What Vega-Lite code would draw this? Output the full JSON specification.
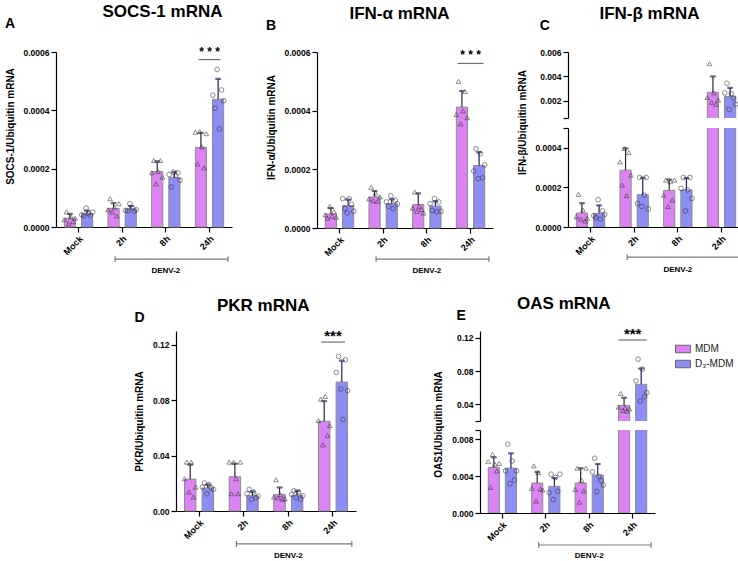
{
  "$schema": "https://vega.github.io/schema/vega-lite/v6.json",
  "padding": {"left": 5, "top": 2, "right": 0, "bottom": 0},
  "datasets": {
    "bars": [
      {"p":"A","t":"Mock","g":"MDM","m":0.00003,"sd":0.000015},
      {"p":"A","t":"Mock","g":"D₃-MDM","m":0.000046,"sd":0.00001},
      {"p":"A","t":"2h","g":"MDM","m":0.000064,"sd":0.000018},
      {"p":"A","t":"2h","g":"D₃-MDM","m":0.000062,"sd":0.00001},
      {"p":"A","t":"8h","g":"MDM","m":0.00019,"sd":0.000035},
      {"p":"A","t":"8h","g":"D₃-MDM","m":0.00017,"sd":0.000018},
      {"p":"A","t":"24h","g":"MDM","m":0.000273,"sd":0.00005},
      {"p":"A","t":"24h","g":"D₃-MDM","m":0.000438,"sd":0.00007},
      {"p":"B","t":"Mock","g":"MDM","m":0.000048,"sd":0.00002},
      {"p":"B","t":"Mock","g":"D₃-MDM","m":0.000077,"sd":0.00002},
      {"p":"B","t":"2h","g":"MDM","m":0.000106,"sd":0.00002},
      {"p":"B","t":"2h","g":"D₃-MDM","m":0.000083,"sd":0.000015},
      {"p":"B","t":"8h","g":"MDM","m":0.00008,"sd":0.000038},
      {"p":"B","t":"8h","g":"D₃-MDM","m":0.000075,"sd":0.000016},
      {"p":"B","t":"24h","g":"MDM","m":0.000412,"sd":0.000055},
      {"p":"B","t":"24h","g":"D₃-MDM","m":0.000213,"sd":0.000045},
      {"p":"C","t":"Mock","g":"MDM","m":0.00007,"sd":0.00005},
      {"p":"C","t":"Mock","g":"D₃-MDM","m":0.000069,"sd":0.00004},
      {"p":"C","t":"2h","g":"MDM","m":0.000287,"sd":0.00011},
      {"p":"C","t":"2h","g":"D₃-MDM","m":0.000163,"sd":0.000086},
      {"p":"C","t":"8h","g":"MDM","m":0.000185,"sd":0.000055},
      {"p":"C","t":"8h","g":"D₃-MDM","m":0.000187,"sd":0.00006},
      {"p":"C","t":"24h","g":"MDM","m":0.0027,"sd":0.0013},
      {"p":"C","t":"24h","g":"D₃-MDM","m":0.00237,"sd":0.0007},
      {"p":"D","t":"Mock","g":"MDM","m":0.023,"sd":0.0105},
      {"p":"D","t":"Mock","g":"D₃-MDM","m":0.0166,"sd":0.0025},
      {"p":"D","t":"2h","g":"MDM","m":0.0247,"sd":0.0095},
      {"p":"D","t":"2h","g":"D₃-MDM","m":0.011,"sd":0.003},
      {"p":"D","t":"8h","g":"MDM","m":0.012,"sd":0.005},
      {"p":"D","t":"8h","g":"D₃-MDM","m":0.0115,"sd":0.003},
      {"p":"D","t":"24h","g":"MDM","m":0.0648,"sd":0.0145},
      {"p":"D","t":"24h","g":"D₃-MDM","m":0.0931,"sd":0.0155},
      {"p":"E","t":"Mock","g":"MDM","m":0.00493,"sd":0.0011},
      {"p":"E","t":"Mock","g":"D₃-MDM","m":0.00486,"sd":0.0016},
      {"p":"E","t":"2h","g":"MDM","m":0.00325,"sd":0.0012},
      {"p":"E","t":"2h","g":"D₃-MDM","m":0.00289,"sd":0.0009},
      {"p":"E","t":"8h","g":"MDM","m":0.00325,"sd":0.0016},
      {"p":"E","t":"8h","g":"D₃-MDM","m":0.00411,"sd":0.0012},
      {"p":"E","t":"24h","g":"MDM","m":0.0388,"sd":0.0093},
      {"p":"E","t":"24h","g":"D₃-MDM","m":0.0642,"sd":0.019}
    ],
    "pts": [
      {"p":"A","t":"Mock","g":"MDM","r":1,"v":0.000025},{"p":"A","t":"Mock","g":"MDM","r":2,"v":0.000052},{"p":"A","t":"Mock","g":"MDM","r":3,"v":0.000012},{"p":"A","t":"Mock","g":"MDM","r":4,"v":0.000035},{"p":"A","t":"Mock","g":"MDM","r":5,"v":0.000018},{"p":"A","t":"Mock","g":"MDM","r":6,"v":0.00003},
      {"p":"A","t":"Mock","g":"D₃-MDM","r":1,"v":0.000042},{"p":"A","t":"Mock","g":"D₃-MDM","r":2,"v":0.000038},{"p":"A","t":"Mock","g":"D₃-MDM","r":3,"v":0.000065},{"p":"A","t":"Mock","g":"D₃-MDM","r":4,"v":0.000046},{"p":"A","t":"Mock","g":"D₃-MDM","r":5,"v":0.00004},{"p":"A","t":"Mock","g":"D₃-MDM","r":6,"v":0.000051},
      {"p":"A","t":"2h","g":"MDM","r":1,"v":0.000059},{"p":"A","t":"2h","g":"MDM","r":2,"v":0.000097},{"p":"A","t":"2h","g":"MDM","r":3,"v":0.000051},{"p":"A","t":"2h","g":"MDM","r":4,"v":0.000068},{"p":"A","t":"2h","g":"MDM","r":5,"v":0.000038},{"p":"A","t":"2h","g":"MDM","r":6,"v":0.00008},
      {"p":"A","t":"2h","g":"D₃-MDM","r":1,"v":0.000057},{"p":"A","t":"2h","g":"D₃-MDM","r":2,"v":0.000055},{"p":"A","t":"2h","g":"D₃-MDM","r":3,"v":0.00008},{"p":"A","t":"2h","g":"D₃-MDM","r":4,"v":0.000066},{"p":"A","t":"2h","g":"D₃-MDM","r":5,"v":0.000054},{"p":"A","t":"2h","g":"D₃-MDM","r":6,"v":0.000059},
      {"p":"A","t":"8h","g":"MDM","r":1,"v":0.000186},{"p":"A","t":"8h","g":"MDM","r":2,"v":0.000228},{"p":"A","t":"8h","g":"MDM","r":3,"v":0.000148},{"p":"A","t":"8h","g":"MDM","r":4,"v":0.00019},{"p":"A","t":"8h","g":"MDM","r":5,"v":0.000228},{"p":"A","t":"8h","g":"MDM","r":6,"v":0.000171},
      {"p":"A","t":"8h","g":"D₃-MDM","r":1,"v":0.00018},{"p":"A","t":"8h","g":"D₃-MDM","r":2,"v":0.000137},{"p":"A","t":"8h","g":"D₃-MDM","r":3,"v":0.000188},{"p":"A","t":"8h","g":"D₃-MDM","r":4,"v":0.000176},{"p":"A","t":"8h","g":"D₃-MDM","r":5,"v":0.000186},{"p":"A","t":"8h","g":"D₃-MDM","r":6,"v":0.00016},
      {"p":"A","t":"24h","g":"MDM","r":1,"v":0.000325},{"p":"A","t":"24h","g":"MDM","r":2,"v":0.000216},{"p":"A","t":"24h","g":"MDM","r":3,"v":0.000327},{"p":"A","t":"24h","g":"MDM","r":4,"v":0.000275},{"p":"A","t":"24h","g":"MDM","r":5,"v":0.000203},{"p":"A","t":"24h","g":"MDM","r":6,"v":0.00032},
      {"p":"A","t":"24h","g":"D₃-MDM","r":1,"v":0.000452},{"p":"A","t":"24h","g":"D₃-MDM","r":2,"v":0.000407},{"p":"A","t":"24h","g":"D₃-MDM","r":3,"v":0.00054},{"p":"A","t":"24h","g":"D₃-MDM","r":4,"v":0.000336},{"p":"A","t":"24h","g":"D₃-MDM","r":5,"v":0.00047},{"p":"A","t":"24h","g":"D₃-MDM","r":6,"v":0.000433},
      {"p":"B","t":"Mock","g":"MDM","r":1,"v":0.000045},{"p":"B","t":"Mock","g":"MDM","r":2,"v":0.000033},{"p":"B","t":"Mock","g":"MDM","r":3,"v":0.000074},{"p":"B","t":"Mock","g":"MDM","r":4,"v":0.00004},{"p":"B","t":"Mock","g":"MDM","r":5,"v":0.000055},{"p":"B","t":"Mock","g":"MDM","r":6,"v":0.000037},
      {"p":"B","t":"Mock","g":"D₃-MDM","r":1,"v":0.0001},{"p":"B","t":"Mock","g":"D₃-MDM","r":2,"v":0.000066},{"p":"B","t":"Mock","g":"D₃-MDM","r":3,"v":0.000051},{"p":"B","t":"Mock","g":"D₃-MDM","r":4,"v":0.0001},{"p":"B","t":"Mock","g":"D₃-MDM","r":5,"v":0.00008},{"p":"B","t":"Mock","g":"D₃-MDM","r":6,"v":0.000057},
      {"p":"B","t":"2h","g":"MDM","r":1,"v":0.000099},{"p":"B","t":"2h","g":"MDM","r":2,"v":0.000139},{"p":"B","t":"2h","g":"MDM","r":3,"v":0.000093},{"p":"B","t":"2h","g":"MDM","r":4,"v":0.00012},{"p":"B","t":"2h","g":"MDM","r":5,"v":0.000091},{"p":"B","t":"2h","g":"MDM","r":6,"v":0.000106},
      {"p":"B","t":"2h","g":"D₃-MDM","r":1,"v":0.000089},{"p":"B","t":"2h","g":"D₃-MDM","r":2,"v":0.000074},{"p":"B","t":"2h","g":"D₃-MDM","r":3,"v":0.00011},{"p":"B","t":"2h","g":"D₃-MDM","r":4,"v":0.000066},{"p":"B","t":"2h","g":"D₃-MDM","r":5,"v":0.000095},{"p":"B","t":"2h","g":"D₃-MDM","r":6,"v":0.000082},
      {"p":"B","t":"8h","g":"MDM","r":1,"v":0.000068},{"p":"B","t":"8h","g":"MDM","r":2,"v":0.000123},{"p":"B","t":"8h","g":"MDM","r":3,"v":0.000057},{"p":"B","t":"8h","g":"MDM","r":4,"v":0.000074},{"p":"B","t":"8h","g":"MDM","r":5,"v":0.000063},{"p":"B","t":"8h","g":"MDM","r":6,"v":0.000051},
      {"p":"B","t":"8h","g":"D₃-MDM","r":1,"v":0.000083},{"p":"B","t":"8h","g":"D₃-MDM","r":2,"v":0.00006},{"p":"B","t":"8h","g":"D₃-MDM","r":3,"v":0.0001},{"p":"B","t":"8h","g":"D₃-MDM","r":4,"v":0.000055},{"p":"B","t":"8h","g":"D₃-MDM","r":5,"v":0.000089},{"p":"B","t":"8h","g":"D₃-MDM","r":6,"v":0.000057},
      {"p":"B","t":"24h","g":"MDM","r":1,"v":0.000387},{"p":"B","t":"24h","g":"MDM","r":2,"v":0.0005},{"p":"B","t":"24h","g":"MDM","r":3,"v":0.000355},{"p":"B","t":"24h","g":"MDM","r":4,"v":0.000399},{"p":"B","t":"24h","g":"MDM","r":5,"v":0.000465},{"p":"B","t":"24h","g":"MDM","r":6,"v":0.000376},
      {"p":"B","t":"24h","g":"D₃-MDM","r":1,"v":0.000194},{"p":"B","t":"24h","g":"D₃-MDM","r":2,"v":0.00027},{"p":"B","t":"24h","g":"D₃-MDM","r":3,"v":0.000168},{"p":"B","t":"24h","g":"D₃-MDM","r":4,"v":0.000253},{"p":"B","t":"24h","g":"D₃-MDM","r":5,"v":0.000171},{"p":"B","t":"24h","g":"D₃-MDM","r":6,"v":0.000215},
      {"p":"C","t":"Mock","g":"MDM","r":1,"v":0.000052},{"p":"C","t":"Mock","g":"MDM","r":2,"v":0.000165},{"p":"C","t":"Mock","g":"MDM","r":3,"v":0.00004},{"p":"C","t":"Mock","g":"MDM","r":4,"v":0.000086},{"p":"C","t":"Mock","g":"MDM","r":5,"v":0.00003},{"p":"C","t":"Mock","g":"MDM","r":6,"v":0.000044},
      {"p":"C","t":"Mock","g":"D₃-MDM","r":1,"v":0.000057},{"p":"C","t":"Mock","g":"D₃-MDM","r":2,"v":0.000047},{"p":"C","t":"Mock","g":"D₃-MDM","r":3,"v":0.000138},{"p":"C","t":"Mock","g":"D₃-MDM","r":4,"v":0.00004},{"p":"C","t":"Mock","g":"D₃-MDM","r":5,"v":0.000082},{"p":"C","t":"Mock","g":"D₃-MDM","r":6,"v":0.000064},
      {"p":"C","t":"2h","g":"MDM","r":1,"v":0.000329},{"p":"C","t":"2h","g":"MDM","r":2,"v":0.000212},{"p":"C","t":"2h","g":"MDM","r":3,"v":0.000397},{"p":"C","t":"2h","g":"MDM","r":4,"v":0.000158},{"p":"C","t":"2h","g":"MDM","r":5,"v":0.000376},{"p":"C","t":"2h","g":"MDM","r":6,"v":0.000262},
      {"p":"C","t":"2h","g":"D₃-MDM","r":1,"v":0.000119},{"p":"C","t":"2h","g":"D₃-MDM","r":2,"v":0.00025},{"p":"C","t":"2h","g":"D₃-MDM","r":3,"v":0.000103},{"p":"C","t":"2h","g":"D₃-MDM","r":4,"v":0.000161},{"p":"C","t":"2h","g":"D₃-MDM","r":5,"v":0.00025},{"p":"C","t":"2h","g":"D₃-MDM","r":6,"v":0.000091},
      {"p":"C","t":"8h","g":"MDM","r":1,"v":0.000161},{"p":"C","t":"8h","g":"MDM","r":2,"v":0.000237},{"p":"C","t":"8h","g":"MDM","r":3,"v":0.000103},{"p":"C","t":"8h","g":"MDM","r":4,"v":0.000229},{"p":"C","t":"8h","g":"MDM","r":5,"v":0.000136},{"p":"C","t":"8h","g":"MDM","r":6,"v":0.000237},
      {"p":"C","t":"8h","g":"D₃-MDM","r":1,"v":0.000195},{"p":"C","t":"8h","g":"D₃-MDM","r":2,"v":0.00025},{"p":"C","t":"8h","g":"D₃-MDM","r":3,"v":0.000081},{"p":"C","t":"8h","g":"D₃-MDM","r":4,"v":0.000187},{"p":"C","t":"8h","g":"D₃-MDM","r":5,"v":0.00025},{"p":"C","t":"8h","g":"D₃-MDM","r":6,"v":0.000145},
      {"p":"C","t":"24h","g":"MDM","r":1,"v":0.00228},{"p":"C","t":"24h","g":"MDM","r":2,"v":0.00504},{"p":"C","t":"24h","g":"MDM","r":3,"v":0.00189},{"p":"C","t":"24h","g":"MDM","r":4,"v":0.00265},{"p":"C","t":"24h","g":"MDM","r":5,"v":0.00172},{"p":"C","t":"24h","g":"MDM","r":6,"v":0.00208},
      {"p":"C","t":"24h","g":"D₃-MDM","r":1,"v":0.00265},{"p":"C","t":"24h","g":"D₃-MDM","r":2,"v":0.00344},{"p":"C","t":"24h","g":"D₃-MDM","r":3,"v":0.0013},{"p":"C","t":"24h","g":"D₃-MDM","r":4,"v":0.0026},{"p":"C","t":"24h","g":"D₃-MDM","r":5,"v":0.00223},{"p":"C","t":"24h","g":"D₃-MDM","r":6,"v":0.00172},
      {"p":"D","t":"Mock","g":"MDM","r":1,"v":0.0233},{"p":"D","t":"Mock","g":"MDM","r":2,"v":0.0353},{"p":"D","t":"Mock","g":"MDM","r":3,"v":0.0137},{"p":"D","t":"Mock","g":"MDM","r":4,"v":0.0353},{"p":"D","t":"Mock","g":"MDM","r":5,"v":0.0101},{"p":"D","t":"Mock","g":"MDM","r":6,"v":0.0173},
      {"p":"D","t":"Mock","g":"D₃-MDM","r":1,"v":0.0173},{"p":"D","t":"Mock","g":"D₃-MDM","r":2,"v":0.0202},{"p":"D","t":"Mock","g":"D₃-MDM","r":3,"v":0.0125},{"p":"D","t":"Mock","g":"D₃-MDM","r":4,"v":0.019},{"p":"D","t":"Mock","g":"D₃-MDM","r":5,"v":0.0166},{"p":"D","t":"Mock","g":"D₃-MDM","r":6,"v":0.0156},
      {"p":"D","t":"2h","g":"MDM","r":1,"v":0.0353},{"p":"D","t":"2h","g":"MDM","r":2,"v":0.0125},{"p":"D","t":"2h","g":"MDM","r":3,"v":0.0353},{"p":"D","t":"2h","g":"MDM","r":4,"v":0.0233},{"p":"D","t":"2h","g":"MDM","r":5,"v":0.0125},{"p":"D","t":"2h","g":"MDM","r":6,"v":0.0353},
      {"p":"D","t":"2h","g":"D₃-MDM","r":1,"v":0.0125},{"p":"D","t":"2h","g":"D₃-MDM","r":2,"v":0.0156},{"p":"D","t":"2h","g":"D₃-MDM","r":3,"v":0.0084},{"p":"D","t":"2h","g":"D₃-MDM","r":4,"v":0.0137},{"p":"D","t":"2h","g":"D₃-MDM","r":5,"v":0.0096},{"p":"D","t":"2h","g":"D₃-MDM","r":6,"v":0.0108},
      {"p":"D","t":"8h","g":"MDM","r":1,"v":0.0101},{"p":"D","t":"8h","g":"MDM","r":2,"v":0.0226},{"p":"D","t":"8h","g":"MDM","r":3,"v":0.0094},{"p":"D","t":"8h","g":"MDM","r":4,"v":0.0118},{"p":"D","t":"8h","g":"MDM","r":5,"v":0.0084},{"p":"D","t":"8h","g":"MDM","r":6,"v":0.0089},
      {"p":"D","t":"8h","g":"D₃-MDM","r":1,"v":0.012},{"p":"D","t":"8h","g":"D₃-MDM","r":2,"v":0.0146},{"p":"D","t":"8h","g":"D₃-MDM","r":3,"v":0.0095},{"p":"D","t":"8h","g":"D₃-MDM","r":4,"v":0.0138},{"p":"D","t":"8h","g":"D₃-MDM","r":5,"v":0.0085},{"p":"D","t":"8h","g":"D₃-MDM","r":6,"v":0.011},
      {"p":"D","t":"24h","g":"MDM","r":1,"v":0.0653},{"p":"D","t":"24h","g":"MDM","r":2,"v":0.0809},{"p":"D","t":"24h","g":"MDM","r":3,"v":0.0478},{"p":"D","t":"24h","g":"MDM","r":4,"v":0.0828},{"p":"D","t":"24h","g":"MDM","r":5,"v":0.0545},{"p":"D","t":"24h","g":"MDM","r":6,"v":0.0617},
      {"p":"D","t":"24h","g":"D₃-MDM","r":1,"v":0.1001},{"p":"D","t":"24h","g":"D₃-MDM","r":2,"v":0.1116},{"p":"D","t":"24h","g":"D₃-MDM","r":3,"v":0.0881},{"p":"D","t":"24h","g":"D₃-MDM","r":4,"v":0.066},{"p":"D","t":"24h","g":"D₃-MDM","r":5,"v":0.1092},{"p":"D","t":"24h","g":"D₃-MDM","r":6,"v":0.0869},
      {"p":"E","t":"Mock","g":"MDM","r":1,"v":0.00557},{"p":"E","t":"Mock","g":"MDM","r":2,"v":0.00279},{"p":"E","t":"Mock","g":"MDM","r":3,"v":0.00636},{"p":"E","t":"Mock","g":"MDM","r":4,"v":0.00529},{"p":"E","t":"Mock","g":"MDM","r":5,"v":0.00457},{"p":"E","t":"Mock","g":"MDM","r":6,"v":0.00539},
      {"p":"E","t":"Mock","g":"D₃-MDM","r":1,"v":0.00457},{"p":"E","t":"Mock","g":"D₃-MDM","r":2,"v":0.00746},{"p":"E","t":"Mock","g":"D₃-MDM","r":3,"v":0.00318},{"p":"E","t":"Mock","g":"D₃-MDM","r":4,"v":0.00564},{"p":"E","t":"Mock","g":"D₃-MDM","r":5,"v":0.00357},{"p":"E","t":"Mock","g":"D₃-MDM","r":6,"v":0.00457},
      {"p":"E","t":"2h","g":"MDM","r":1,"v":0.00268},{"p":"E","t":"2h","g":"MDM","r":2,"v":0.00511},{"p":"E","t":"2h","g":"MDM","r":3,"v":0.00129},{"p":"E","t":"2h","g":"MDM","r":4,"v":0.00439},{"p":"E","t":"2h","g":"MDM","r":5,"v":0.00261},{"p":"E","t":"2h","g":"MDM","r":6,"v":0.0025},
      {"p":"E","t":"2h","g":"D₃-MDM","r":1,"v":0.00221},{"p":"E","t":"2h","g":"D₃-MDM","r":2,"v":0.00421},{"p":"E","t":"2h","g":"D₃-MDM","r":3,"v":0.00146},{"p":"E","t":"2h","g":"D₃-MDM","r":4,"v":0.00386},{"p":"E","t":"2h","g":"D₃-MDM","r":5,"v":0.00236},{"p":"E","t":"2h","g":"D₃-MDM","r":6,"v":0.00421},
      {"p":"E","t":"8h","g":"MDM","r":1,"v":0.00254},{"p":"E","t":"8h","g":"MDM","r":2,"v":0.00486},{"p":"E","t":"8h","g":"MDM","r":3,"v":0.00118},{"p":"E","t":"8h","g":"MDM","r":4,"v":0.00354},{"p":"E","t":"8h","g":"MDM","r":5,"v":0.00239},{"p":"E","t":"8h","g":"MDM","r":6,"v":0.00486},
      {"p":"E","t":"8h","g":"D₃-MDM","r":1,"v":0.00446},{"p":"E","t":"8h","g":"D₃-MDM","r":2,"v":0.00593},{"p":"E","t":"8h","g":"D₃-MDM","r":3,"v":0.00232},{"p":"E","t":"8h","g":"D₃-MDM","r":4,"v":0.00396},{"p":"E","t":"8h","g":"D₃-MDM","r":5,"v":0.0035},{"p":"E","t":"8h","g":"D₃-MDM","r":6,"v":0.00304},
      {"p":"E","t":"24h","g":"MDM","r":1,"v":0.0368},{"p":"E","t":"24h","g":"MDM","r":2,"v":0.0533},{"p":"E","t":"24h","g":"MDM","r":3,"v":0.0325},{"p":"E","t":"24h","g":"MDM","r":4,"v":0.036},{"p":"E","t":"24h","g":"MDM","r":5,"v":0.0319},{"p":"E","t":"24h","g":"MDM","r":6,"v":0.0347},
      {"p":"E","t":"24h","g":"D₃-MDM","r":1,"v":0.0683},{"p":"E","t":"24h","g":"D₃-MDM","r":2,"v":0.0945},{"p":"E","t":"24h","g":"D₃-MDM","r":3,"v":0.044},{"p":"E","t":"24h","g":"D₃-MDM","r":4,"v":0.0824},{"p":"E","t":"24h","g":"D₃-MDM","r":5,"v":0.0493},{"p":"E","t":"24h","g":"D₃-MDM","r":6,"v":0.0541}
    ]
  },
  "spacing": 18,
  "resolve": {"scale": {"color": "independent"}},
  "vconcat": [
    {
      "spacing": 34,
      "hconcat": [
        {
          "title": {"text": "SOCS-1 mRNA", "anchor": "middle", "dx": 44, "offset": -4},
          "vconcat": [
            {
              "width": 176, "height": 175,
              "title": {"text": "A", "anchor": "start", "frame": "bounds", "fontSize": 14, "offset": 15},
              "resolve": {"scale": {"xOffset": "independent"}},
              "layer": [
                {"data": {"name": "bars"}, "transform": [{"filter": "datum.p === 'A'"}],
                 "mark": {"type": "bar", "stroke": "#8c8c8c", "strokeWidth": 1},
                 "encoding": {
                   "x": {"field": "t", "type": "nominal", "scale": {"domain": ["Mock","2h","8h","24h"], "paddingInner": 0.35, "paddingOuter": 0.19}, "axis": {"title": null}},
                   "xOffset": {"field": "g", "scale": {"domain": ["MDM","D₃-MDM"], "paddingInner": 0.35}},
                   "y": {"field": "m", "type": "quantitative", "scale": {"domain": [0, 0.0006], "nice": false}, "axis": {"title": "SOCS-1/Ubiquitin mRNA", "titleY": 74, "values": [0, 0.0002, 0.0004, 0.0006], "tickCount": 20, "format": ".4f"}},
                   "color": {"field": "g", "type": "nominal", "scale": {"domain": ["MDM","D₃-MDM"], "range": ["#db83f2","#8d8df6"]}, "legend": null}
                 }},
                {"data": {"name": "bars"}, "transform": [{"filter": "datum.p === 'A'"}, {"calculate": "datum.m + datum.sd", "as": "hi"}],
                 "mark": {"type": "rule", "strokeWidth": 1.2},
                 "encoding": {
                   "x": {"field": "t", "type": "nominal"},
                   "xOffset": {"field": "g", "scale": {"domain": ["MDM","D₃-MDM"], "paddingInner": 0.35}},
                   "y": {"field": "m", "type": "quantitative", "scale": {"domain": [0, 0.0006], "nice": false}},
                   "y2": {"field": "hi"},
                   "stroke": {"field": "g", "type": "nominal", "scale": {"domain": ["MDM","D₃-MDM"], "range": ["#3a2040","#1d1d66"]}, "legend": null}
                 }},
                {"data": {"name": "bars"}, "transform": [{"filter": "datum.p === 'A'"}, {"calculate": "datum.m + datum.sd", "as": "hi"}],
                 "mark": {"type": "tick", "size": 5, "thickness": 1.2},
                 "encoding": {
                   "x": {"field": "t", "type": "nominal"},
                   "xOffset": {"field": "g", "scale": {"domain": ["MDM","D₃-MDM"], "paddingInner": 0.35}},
                   "y": {"field": "hi", "type": "quantitative", "scale": {"domain": [0, 0.0006], "nice": false}},
                   "stroke": {"field": "g", "type": "nominal", "scale": {"domain": ["MDM","D₃-MDM"], "range": ["#3a2040","#1d1d66"]}, "legend": null}
                 }},
                {"data": {"name": "pts"}, "transform": [{"filter": "datum.p === 'A'"}, {"calculate": "datum.g + datum.r", "as": "k"}],
                 "mark": {"type": "point", "filled": false, "strokeWidth": 0.8, "size": 22, "color": "#333333"},
                 "encoding": {
                   "x": {"field": "t", "type": "nominal"},
                   "xOffset": {"field": "k", "scale": {"domain": ["MDM1","MDM2","MDM3","MDM4","MDM5","MDM6","s1","s2","D₃-MDM1","D₃-MDM2","D₃-MDM3","D₃-MDM4","D₃-MDM5","D₃-MDM6"], "paddingInner": 0, "paddingOuter": 0}},
                   "y": {"field": "v", "type": "quantitative", "scale": {"domain": [0, 0.0006], "nice": false}},
                   "shape": {"field": "g", "type": "nominal", "scale": {"domain": ["MDM","D₃-MDM"], "range": ["triangle-up","circle"]}, "legend": null}
                 }},
                {"data": {"values": [{}]}, "mark": {"type": "tick", "size": 22, "thickness": 1.2, "color": "#333333"},
                 "encoding": {"x": {"datum": "24h"}, "y": {"datum": 0.000574, "scale": {"domain": [0, 0.0006], "nice": false}}}},
                {"data": {"values": [{}]}, "mark": {"type": "text", "text": "* * *", "fontSize": 12, "fontWeight": "bold", "baseline": "bottom", "dy": -1},
                 "encoding": {"x": {"datum": "24h"}, "y": {"datum": 0.000574, "scale": {"domain": [0, 0.0006], "nice": false}}}},
                {"data": {"values": [{}]}, "mark": {"type": "rule", "color": "#7a7a7a", "strokeWidth": 1.2},
                 "encoding": {"x": {"datum": "2h", "bandPosition": 0.25}, "x2": {"datum": "24h", "bandPosition": 1.15}, "y": {"datum": -0.00011, "scale": {"domain": [0, 0.0006], "nice": false}}}},
                {"data": {"values": [{}]}, "mark": {"type": "rule", "color": "#7a7a7a", "strokeWidth": 1.2},
                 "encoding": {"x": {"datum": "2h", "bandPosition": 0.25}, "y": {"datum": -0.0001, "scale": {"domain": [0, 0.0006], "nice": false}}, "y2": {"datum": -0.00012}}},
                {"data": {"values": [{}]}, "mark": {"type": "rule", "color": "#7a7a7a", "strokeWidth": 1.2},
                 "encoding": {"x": {"datum": "24h", "bandPosition": 1.15}, "y": {"datum": -0.0001, "scale": {"domain": [0, 0.0006], "nice": false}}, "y2": {"datum": -0.00012}}},
                {"data": {"values": [{}]}, "mark": {"type": "text", "text": "DENV-2", "fontSize": 8, "fontWeight": "bold"},
                 "encoding": {"x": {"datum": "8h"}, "y": {"datum": -0.000151, "scale": {"domain": [0, 0.0006], "nice": false}}}}
              ]
            }
          ]
        },
        {
          "spacing": 24,
          "hconcat": [
            {
              "title": {"text": "IFN-α mRNA", "anchor": "middle", "dx": 20, "offset": -4},
              "vconcat": [
                {
                  "width": 176, "height": 176,
                  "title": {"text": "B", "anchor": "start", "frame": "bounds", "fontSize": 14, "offset": 15},
                  "resolve": {"scale": {"xOffset": "independent"}},
                  "layer": [
                    {"data": {"name": "bars"}, "transform": [{"filter": "datum.p === 'B'"}],
                     "mark": {"type": "bar", "stroke": "#8c8c8c", "strokeWidth": 1},
                     "encoding": {
                       "x": {"field": "t", "type": "nominal", "scale": {"domain": ["Mock","2h","8h","24h"], "paddingInner": 0.35, "paddingOuter": 0.19}, "axis": {"title": null}},
                       "xOffset": {"field": "g", "scale": {"domain": ["MDM","D₃-MDM"], "paddingInner": 0.35}},
                       "y": {"field": "m", "type": "quantitative", "scale": {"domain": [0, 0.0006], "nice": false}, "axis": {"title": "IFN-α/Ubiquitin mRNA", "titleY": 75, "values": [0, 0.0002, 0.0004, 0.0006], "tickCount": 20, "format": ".4f"}},
                       "color": {"field": "g", "type": "nominal", "scale": {"domain": ["MDM","D₃-MDM"], "range": ["#db83f2","#8d8df6"]}, "legend": null}
                     }},
                    {"data": {"name": "bars"}, "transform": [{"filter": "datum.p === 'B'"}, {"calculate": "datum.m + datum.sd", "as": "hi"}],
                     "mark": {"type": "rule", "strokeWidth": 1.2},
                     "encoding": {
                       "x": {"field": "t", "type": "nominal"},
                       "xOffset": {"field": "g", "scale": {"domain": ["MDM","D₃-MDM"], "paddingInner": 0.35}},
                       "y": {"field": "m", "type": "quantitative", "scale": {"domain": [0, 0.0006], "nice": false}},
                       "y2": {"field": "hi"},
                       "stroke": {"field": "g", "type": "nominal", "scale": {"domain": ["MDM","D₃-MDM"], "range": ["#3a2040","#1d1d66"]}, "legend": null}
                     }},
                    {"data": {"name": "bars"}, "transform": [{"filter": "datum.p === 'B'"}, {"calculate": "datum.m + datum.sd", "as": "hi"}],
                     "mark": {"type": "tick", "size": 5, "thickness": 1.2},
                     "encoding": {
                       "x": {"field": "t", "type": "nominal"},
                       "xOffset": {"field": "g", "scale": {"domain": ["MDM","D₃-MDM"], "paddingInner": 0.35}},
                       "y": {"field": "hi", "type": "quantitative", "scale": {"domain": [0, 0.0006], "nice": false}},
                       "stroke": {"field": "g", "type": "nominal", "scale": {"domain": ["MDM","D₃-MDM"], "range": ["#3a2040","#1d1d66"]}, "legend": null}
                     }},
                    {"data": {"name": "pts"}, "transform": [{"filter": "datum.p === 'B'"}, {"calculate": "datum.g + datum.r", "as": "k"}],
                     "mark": {"type": "point", "filled": false, "strokeWidth": 0.8, "size": 22, "color": "#333333"},
                     "encoding": {
                       "x": {"field": "t", "type": "nominal"},
                       "xOffset": {"field": "k", "scale": {"domain": ["MDM1","MDM2","MDM3","MDM4","MDM5","MDM6","s1","s2","D₃-MDM1","D₃-MDM2","D₃-MDM3","D₃-MDM4","D₃-MDM5","D₃-MDM6"], "paddingInner": 0, "paddingOuter": 0}},
                       "y": {"field": "v", "type": "quantitative", "scale": {"domain": [0, 0.0006], "nice": false}},
                       "shape": {"field": "g", "type": "nominal", "scale": {"domain": ["MDM","D₃-MDM"], "range": ["triangle-up","circle"]}, "legend": null}
                     }},
                    {"data": {"values": [{}]}, "mark": {"type": "tick", "size": 26, "thickness": 1.2, "color": "#333333"},
                     "encoding": {"x": {"datum": "24h"}, "y": {"datum": 0.000561, "scale": {"domain": [0, 0.0006], "nice": false}}}},
                    {"data": {"values": [{}]}, "mark": {"type": "text", "text": "* * *", "fontSize": 12, "fontWeight": "bold", "baseline": "bottom", "dy": -1},
                     "encoding": {"x": {"datum": "24h"}, "y": {"datum": 0.000561, "scale": {"domain": [0, 0.0006], "nice": false}}}},
                    {"data": {"values": [{}]}, "mark": {"type": "rule", "color": "#7a7a7a", "strokeWidth": 1.2},
                     "encoding": {"x": {"datum": "2h", "bandPosition": 0.25}, "x2": {"datum": "24h", "bandPosition": 1.15}, "y": {"datum": -0.000106, "scale": {"domain": [0, 0.0006], "nice": false}}}},
                    {"data": {"values": [{}]}, "mark": {"type": "rule", "color": "#7a7a7a", "strokeWidth": 1.2},
                     "encoding": {"x": {"datum": "2h", "bandPosition": 0.25}, "y": {"datum": -0.000096, "scale": {"domain": [0, 0.0006], "nice": false}}, "y2": {"datum": -0.000116}}},
                    {"data": {"values": [{}]}, "mark": {"type": "rule", "color": "#7a7a7a", "strokeWidth": 1.2},
                     "encoding": {"x": {"datum": "24h", "bandPosition": 1.15}, "y": {"datum": -0.000096, "scale": {"domain": [0, 0.0006], "nice": false}}, "y2": {"datum": -0.000116}}},
                    {"data": {"values": [{}]}, "mark": {"type": "text", "text": "DENV-2", "fontSize": 8, "fontWeight": "bold"},
                     "encoding": {"x": {"datum": "8h"}, "y": {"datum": -0.000147, "scale": {"domain": [0, 0.0006], "nice": false}}}}
                  ]
                }
              ]
            },
            {
              "title": {"text": "IFN-β mRNA", "anchor": "middle", "dx": 19, "offset": -4},
              "bounds": "flush",
              "spacing": 10,
              "vconcat": [
                {
                  "width": 176, "height": 66,
                  "title": {"text": "C", "anchor": "start", "frame": "bounds", "fontSize": 14, "offset": 15},
                  "resolve": {"scale": {"xOffset": "independent"}},
                  "layer": [
                    {"data": {"name": "bars"}, "transform": [{"filter": "datum.p === 'C'"}],
                     "mark": {"type": "bar", "stroke": "#8c8c8c", "strokeWidth": 1, "clip": true},
                     "encoding": {
                       "x": {"field": "t", "type": "nominal", "scale": {"domain": ["Mock","2h","8h","24h"], "paddingInner": 0.35, "paddingOuter": 0.19}, "axis": null},
                       "xOffset": {"field": "g", "scale": {"domain": ["MDM","D₃-MDM"], "paddingInner": 0.35}},
                       "y": {"field": "m", "type": "quantitative", "scale": {"domain": [0.0006, 0.006], "nice": false, "zero": false}, "axis": {"title": null, "values": [0.0006, 0.002, 0.004, 0.006], "tickCount": 20, "labelExpr": "datum.value < 0.001 ? '' : format(datum.value, '.3f')"}},
                       "color": {"field": "g", "type": "nominal", "scale": {"domain": ["MDM","D₃-MDM"], "range": ["#db83f2","#8d8df6"]}, "legend": null}
                     }},
                    {"data": {"name": "bars"}, "transform": [{"filter": "datum.p === 'C'"}, {"calculate": "datum.m + datum.sd", "as": "hi"}],
                     "mark": {"type": "rule", "strokeWidth": 1.2, "clip": true},
                     "encoding": {
                       "x": {"field": "t", "type": "nominal", "axis": null},
                       "xOffset": {"field": "g", "scale": {"domain": ["MDM","D₃-MDM"], "paddingInner": 0.35}},
                       "y": {"field": "m", "type": "quantitative", "scale": {"domain": [0.0006, 0.006], "nice": false, "zero": false}},
                       "y2": {"field": "hi"},
                       "stroke": {"field": "g", "type": "nominal", "scale": {"domain": ["MDM","D₃-MDM"], "range": ["#3a2040","#1d1d66"]}, "legend": null}
                     }},
                    {"data": {"name": "bars"}, "transform": [{"filter": "datum.p === 'C'"}, {"calculate": "datum.m + datum.sd", "as": "hi"}],
                     "mark": {"type": "tick", "size": 5, "thickness": 1.2, "clip": true},
                     "encoding": {
                       "x": {"field": "t", "type": "nominal", "axis": null},
                       "xOffset": {"field": "g", "scale": {"domain": ["MDM","D₃-MDM"], "paddingInner": 0.35}},
                       "y": {"field": "hi", "type": "quantitative", "scale": {"domain": [0.0006, 0.006], "nice": false, "zero": false}},
                       "stroke": {"field": "g", "type": "nominal", "scale": {"domain": ["MDM","D₃-MDM"], "range": ["#3a2040","#1d1d66"]}, "legend": null}
                     }},
                    {"data": {"name": "pts"}, "transform": [{"filter": "datum.p === 'C'"}, {"calculate": "datum.g + datum.r", "as": "k"}],
                     "mark": {"type": "point", "filled": false, "strokeWidth": 0.8, "size": 22, "color": "#333333", "clip": true},
                     "encoding": {
                       "x": {"field": "t", "type": "nominal", "axis": null},
                       "xOffset": {"field": "k", "scale": {"domain": ["MDM1","MDM2","MDM3","MDM4","MDM5","MDM6","s1","s2","D₃-MDM1","D₃-MDM2","D₃-MDM3","D₃-MDM4","D₃-MDM5","D₃-MDM6"], "paddingInner": 0, "paddingOuter": 0}},
                       "y": {"field": "v", "type": "quantitative", "scale": {"domain": [0.0006, 0.006], "nice": false, "zero": false}},
                       "shape": {"field": "g", "type": "nominal", "scale": {"domain": ["MDM","D₃-MDM"], "range": ["triangle-up","circle"]}, "legend": null}
                     }}
                  ]
                },
                {
                  "width": 176, "height": 99,
                  "resolve": {"scale": {"xOffset": "independent"}},
                  "layer": [
                    {"data": {"name": "bars"}, "transform": [{"filter": "datum.p === 'C'"}],
                     "mark": {"type": "bar", "stroke": "#8c8c8c", "strokeWidth": 1, "clip": true},
                     "encoding": {
                       "x": {"field": "t", "type": "nominal", "scale": {"domain": ["Mock","2h","8h","24h"], "paddingInner": 0.35, "paddingOuter": 0.19}, "axis": {"title": null}},
                       "xOffset": {"field": "g", "scale": {"domain": ["MDM","D₃-MDM"], "paddingInner": 0.35}},
                       "y": {"field": "m", "type": "quantitative", "scale": {"domain": [0, 0.0005], "nice": false}, "axis": {"title": "IFN-β/Ubiquitin mRNA", "titleY": -6, "values": [0, 0.0002, 0.0004, 0.0005], "tickCount": 20, "labelExpr": "datum.value > 0.00045 ? '' : format(datum.value, '.4f')"}},
                       "color": {"field": "g", "type": "nominal", "scale": {"domain": ["MDM","D₃-MDM"], "range": ["#db83f2","#8d8df6"]}, "legend": null}
                     }},
                    {"data": {"name": "bars"}, "transform": [{"filter": "datum.p === 'C'"}, {"calculate": "datum.m + datum.sd", "as": "hi"}],
                     "mark": {"type": "rule", "strokeWidth": 1.2, "clip": true},
                     "encoding": {
                       "x": {"field": "t", "type": "nominal"},
                       "xOffset": {"field": "g", "scale": {"domain": ["MDM","D₃-MDM"], "paddingInner": 0.35}},
                       "y": {"field": "m", "type": "quantitative", "scale": {"domain": [0, 0.0005], "nice": false}},
                       "y2": {"field": "hi"},
                       "stroke": {"field": "g", "type": "nominal", "scale": {"domain": ["MDM","D₃-MDM"], "range": ["#3a2040","#1d1d66"]}, "legend": null}
                     }},
                    {"data": {"name": "bars"}, "transform": [{"filter": "datum.p === 'C'"}, {"calculate": "datum.m + datum.sd", "as": "hi"}],
                     "mark": {"type": "tick", "size": 5, "thickness": 1.2, "clip": true},
                     "encoding": {
                       "x": {"field": "t", "type": "nominal"},
                       "xOffset": {"field": "g", "scale": {"domain": ["MDM","D₃-MDM"], "paddingInner": 0.35}},
                       "y": {"field": "hi", "type": "quantitative", "scale": {"domain": [0, 0.0005], "nice": false}},
                       "stroke": {"field": "g", "type": "nominal", "scale": {"domain": ["MDM","D₃-MDM"], "range": ["#3a2040","#1d1d66"]}, "legend": null}
                     }},
                    {"data": {"name": "pts"}, "transform": [{"filter": "datum.p === 'C'"}, {"calculate": "datum.g + datum.r", "as": "k"}],
                     "mark": {"type": "point", "filled": false, "strokeWidth": 0.8, "size": 22, "color": "#333333", "clip": true},
                     "encoding": {
                       "x": {"field": "t", "type": "nominal"},
                       "xOffset": {"field": "k", "scale": {"domain": ["MDM1","MDM2","MDM3","MDM4","MDM5","MDM6","s1","s2","D₃-MDM1","D₃-MDM2","D₃-MDM3","D₃-MDM4","D₃-MDM5","D₃-MDM6"], "paddingInner": 0, "paddingOuter": 0}},
                       "y": {"field": "v", "type": "quantitative", "scale": {"domain": [0, 0.0005], "nice": false}},
                       "shape": {"field": "g", "type": "nominal", "scale": {"domain": ["MDM","D₃-MDM"], "range": ["triangle-up","circle"]}, "legend": null}
                     }},
                    {"data": {"values": [{}]}, "mark": {"type": "rule", "color": "#7a7a7a", "strokeWidth": 1.2},
                     "encoding": {"x": {"datum": "2h", "bandPosition": 0.25}, "x2": {"datum": "24h", "bandPosition": 1.15}, "y": {"datum": -0.000152, "scale": {"domain": [0, 0.0005], "nice": false}}}},
                    {"data": {"values": [{}]}, "mark": {"type": "rule", "color": "#7a7a7a", "strokeWidth": 1.2},
                     "encoding": {"x": {"datum": "2h", "bandPosition": 0.25}, "y": {"datum": -0.000137, "scale": {"domain": [0, 0.0005], "nice": false}}, "y2": {"datum": -0.000167}}},
                    {"data": {"values": [{}]}, "mark": {"type": "rule", "color": "#7a7a7a", "strokeWidth": 1.2},
                     "encoding": {"x": {"datum": "24h", "bandPosition": 1.15}, "y": {"datum": -0.000137, "scale": {"domain": [0, 0.0005], "nice": false}}, "y2": {"datum": -0.000167}}},
                    {"data": {"values": [{}]}, "mark": {"type": "text", "text": "DENV-2", "fontSize": 8, "fontWeight": "bold"},
                     "encoding": {"x": {"datum": "8h"}, "y": {"datum": -0.000217, "scale": {"domain": [0, 0.0005], "nice": false}}}}
                  ]
                }
              ]
            }
          ]
        }
      ]
    },
    {
      "spacing": 77,
      "resolve": {"scale": {"color": "independent"}},
      "hconcat": [
        {"width": 1, "height": 10, "data": {"values": []}, "mark": "rule", "encoding": {}},
        {
          "title": {"text": "PKR mRNA", "anchor": "middle", "dx": 18, "offset": -4},
          "vconcat": [
            {
              "width": 180, "height": 180,
              "title": {"text": "D", "anchor": "start", "frame": "bounds", "fontSize": 14, "offset": 4},
              "resolve": {"scale": {"xOffset": "independent"}},
              "layer": [
                {"data": {"name": "bars"}, "transform": [{"filter": "datum.p === 'D'"}],
                 "mark": {"type": "bar", "stroke": "#8c8c8c", "strokeWidth": 1},
                 "encoding": {
                   "x": {"field": "t", "type": "nominal", "scale": {"domain": ["Mock","2h","8h","24h"], "paddingInner": 0.35, "paddingOuter": 0.19}, "axis": {"title": null}},
                   "xOffset": {"field": "g", "scale": {"domain": ["MDM","D₃-MDM"], "paddingInner": 0.35}},
                   "y": {"field": "m", "type": "quantitative", "scale": {"domain": [0, 0.13], "nice": false}, "axis": {"title": "PKR/Ubiquitin mRNA", "values": [0, 0.04, 0.08, 0.12], "tickCount": 20, "format": ".2f"}},
                   "color": {"field": "g", "type": "nominal", "scale": {"domain": ["MDM","D₃-MDM"], "range": ["#db83f2","#8d8df6"]}, "legend": null}
                 }},
                {"data": {"name": "bars"}, "transform": [{"filter": "datum.p === 'D'"}, {"calculate": "datum.m + datum.sd", "as": "hi"}],
                 "mark": {"type": "rule", "strokeWidth": 1.2},
                 "encoding": {
                   "x": {"field": "t", "type": "nominal"},
                   "xOffset": {"field": "g", "scale": {"domain": ["MDM","D₃-MDM"], "paddingInner": 0.35}},
                   "y": {"field": "m", "type": "quantitative", "scale": {"domain": [0, 0.13], "nice": false}},
                   "y2": {"field": "hi"},
                   "stroke": {"field": "g", "type": "nominal", "scale": {"domain": ["MDM","D₃-MDM"], "range": ["#3a2040","#1d1d66"]}, "legend": null}
                 }},
                {"data": {"name": "bars"}, "transform": [{"filter": "datum.p === 'D'"}, {"calculate": "datum.m + datum.sd", "as": "hi"}],
                 "mark": {"type": "tick", "size": 5, "thickness": 1.2},
                 "encoding": {
                   "x": {"field": "t", "type": "nominal"},
                   "xOffset": {"field": "g", "scale": {"domain": ["MDM","D₃-MDM"], "paddingInner": 0.35}},
                   "y": {"field": "hi", "type": "quantitative", "scale": {"domain": [0, 0.13], "nice": false}},
                   "stroke": {"field": "g", "type": "nominal", "scale": {"domain": ["MDM","D₃-MDM"], "range": ["#3a2040","#1d1d66"]}, "legend": null}
                 }},
                {"data": {"name": "pts"}, "transform": [{"filter": "datum.p === 'D'"}, {"calculate": "datum.g + datum.r", "as": "k"}],
                 "mark": {"type": "point", "filled": false, "strokeWidth": 0.8, "size": 22, "color": "#333333"},
                 "encoding": {
                   "x": {"field": "t", "type": "nominal"},
                   "xOffset": {"field": "k", "scale": {"domain": ["MDM1","MDM2","MDM3","MDM4","MDM5","MDM6","s1","s2","D₃-MDM1","D₃-MDM2","D₃-MDM3","D₃-MDM4","D₃-MDM5","D₃-MDM6"], "paddingInner": 0, "paddingOuter": 0}},
                   "y": {"field": "v", "type": "quantitative", "scale": {"domain": [0, 0.13], "nice": false}},
                   "shape": {"field": "g", "type": "nominal", "scale": {"domain": ["MDM","D₃-MDM"], "range": ["triangle-up","circle"]}, "legend": null}
                 }},
                {"data": {"values": [{}]}, "mark": {"type": "tick", "size": 24, "thickness": 1.2, "color": "#333333"},
                 "encoding": {"x": {"datum": "24h"}, "y": {"datum": 0.122, "scale": {"domain": [0, 0.13], "nice": false}}}},
                {"data": {"values": [{}]}, "mark": {"type": "text", "text": "***", "fontSize": 15, "fontWeight": "bold", "baseline": "bottom", "dy": 2},
                 "encoding": {"x": {"datum": "24h"}, "y": {"datum": 0.122, "scale": {"domain": [0, 0.13], "nice": false}}}},
                {"data": {"values": [{}]}, "mark": {"type": "rule", "color": "#7a7a7a", "strokeWidth": 1.2},
                 "encoding": {"x": {"datum": "2h", "bandPosition": 0.25}, "x2": {"datum": "24h", "bandPosition": 1.15}, "y": {"datum": -0.0238, "scale": {"domain": [0, 0.13], "nice": false}}}},
                {"data": {"values": [{}]}, "mark": {"type": "rule", "color": "#7a7a7a", "strokeWidth": 1.2},
                 "encoding": {"x": {"datum": "2h", "bandPosition": 0.25}, "y": {"datum": -0.0216, "scale": {"domain": [0, 0.13], "nice": false}}, "y2": {"datum": -0.026}}},
                {"data": {"values": [{}]}, "mark": {"type": "rule", "color": "#7a7a7a", "strokeWidth": 1.2},
                 "encoding": {"x": {"datum": "24h", "bandPosition": 1.15}, "y": {"datum": -0.0216, "scale": {"domain": [0, 0.13], "nice": false}}, "y2": {"datum": -0.026}}},
                {"data": {"values": [{}]}, "mark": {"type": "text", "text": "DENV-2", "fontSize": 8, "fontWeight": "bold"},
                 "encoding": {"x": {"datum": "8h"}, "y": {"datum": -0.0325, "scale": {"domain": [0, 0.13], "nice": false}}}}
              ]
            }
          ]
        },
        {
          "title": {"text": "OAS mRNA", "anchor": "middle", "dx": -20, "offset": -4},
          "bounds": "flush",
          "spacing": 9,
          "resolve": {"scale": {"color": "independent"}},
          "vconcat": [
            {
              "width": 175, "height": 90,
              "title": {"text": "E", "anchor": "start", "frame": "bounds", "fontSize": 14, "offset": 4},
              "resolve": {"scale": {"xOffset": "independent"}},
              "layer": [
                {"data": {"name": "bars"}, "transform": [{"filter": "datum.p === 'E'"}],
                 "mark": {"type": "bar", "stroke": "#8c8c8c", "strokeWidth": 1, "clip": true},
                 "encoding": {
                   "x": {"field": "t", "type": "nominal", "scale": {"domain": ["Mock","2h","8h","24h"], "paddingInner": 0.35, "paddingOuter": 0.19}, "axis": null},
                   "xOffset": {"field": "g", "scale": {"domain": ["MDM","D₃-MDM"], "paddingInner": 0.35}},
                   "y": {"field": "m", "type": "quantitative", "scale": {"domain": [0.02, 0.1284], "nice": false, "zero": false}, "axis": {"title": null, "values": [0.02, 0.04, 0.08, 0.12], "tickCount": 20, "labelExpr": "datum.value < 0.03 ? '' : format(datum.value, '.2f')"}},
                   "color": {"field": "g", "type": "nominal", "scale": {"domain": ["MDM","D₃-MDM"], "range": ["#db83f2","#8d8df6"]},
                     "legend": {"title": null, "orient": "none", "legendX": 195, "legendY": 10, "symbolType": "M-1,-0.5H1V0.5H-1Z", "symbolSize": 225, "symbolStrokeColor": "#666666", "symbolStrokeWidth": 1, "symbolOpacity": 1, "labelFontSize": 10, "labelFontWeight": "normal", "labelColor": "#222222", "labelFont": "Liberation Sans", "rowPadding": 1}}
                 }},
                {"data": {"name": "bars"}, "transform": [{"filter": "datum.p === 'E'"}, {"calculate": "datum.m + datum.sd", "as": "hi"}],
                 "mark": {"type": "rule", "strokeWidth": 1.2, "clip": true},
                 "encoding": {
                   "x": {"field": "t", "type": "nominal", "axis": null},
                   "xOffset": {"field": "g", "scale": {"domain": ["MDM","D₃-MDM"], "paddingInner": 0.35}},
                   "y": {"field": "m", "type": "quantitative", "scale": {"domain": [0.02, 0.1284], "nice": false, "zero": false}},
                   "y2": {"field": "hi"},
                   "stroke": {"field": "g", "type": "nominal", "scale": {"domain": ["MDM","D₃-MDM"], "range": ["#3a2040","#1d1d66"]}, "legend": null}
                 }},
                {"data": {"name": "bars"}, "transform": [{"filter": "datum.p === 'E'"}, {"calculate": "datum.m + datum.sd", "as": "hi"}],
                 "mark": {"type": "tick", "size": 5, "thickness": 1.2, "clip": true},
                 "encoding": {
                   "x": {"field": "t", "type": "nominal", "axis": null},
                   "xOffset": {"field": "g", "scale": {"domain": ["MDM","D₃-MDM"], "paddingInner": 0.35}},
                   "y": {"field": "hi", "type": "quantitative", "scale": {"domain": [0.02, 0.1284], "nice": false, "zero": false}},
                   "stroke": {"field": "g", "type": "nominal", "scale": {"domain": ["MDM","D₃-MDM"], "range": ["#3a2040","#1d1d66"]}, "legend": null}
                 }},
                {"data": {"name": "pts"}, "transform": [{"filter": "datum.p === 'E'"}, {"calculate": "datum.g + datum.r", "as": "k"}],
                 "mark": {"type": "point", "filled": false, "strokeWidth": 0.8, "size": 22, "color": "#333333", "clip": true},
                 "encoding": {
                   "x": {"field": "t", "type": "nominal", "axis": null},
                   "xOffset": {"field": "k", "scale": {"domain": ["MDM1","MDM2","MDM3","MDM4","MDM5","MDM6","s1","s2","D₃-MDM1","D₃-MDM2","D₃-MDM3","D₃-MDM4","D₃-MDM5","D₃-MDM6"], "paddingInner": 0, "paddingOuter": 0}},
                   "y": {"field": "v", "type": "quantitative", "scale": {"domain": [0.02, 0.1284], "nice": false, "zero": false}},
                   "shape": {"field": "g", "type": "nominal", "scale": {"domain": ["MDM","D₃-MDM"], "range": ["triangle-up","circle"]}, "legend": null}
                 }},
                {"data": {"values": [{}]}, "mark": {"type": "tick", "size": 28, "thickness": 1.2, "color": "#333333"},
                 "encoding": {"x": {"datum": "24h", "axis": null}, "y": {"datum": 0.1176, "scale": {"domain": [0.02, 0.1284], "nice": false, "zero": false}}}},
                {"data": {"values": [{}]}, "mark": {"type": "text", "text": "***", "fontSize": 15, "fontWeight": "bold", "baseline": "bottom", "dy": 2},
                 "encoding": {"x": {"datum": "24h", "axis": null}, "y": {"datum": 0.1176, "scale": {"domain": [0.02, 0.1284], "nice": false, "zero": false}}}}
              ]
            },
            {
              "width": 175, "height": 83,
              "resolve": {"scale": {"xOffset": "independent"}},
              "layer": [
                {"data": {"name": "bars"}, "transform": [{"filter": "datum.p === 'E'"}],
                 "mark": {"type": "bar", "stroke": "#8c8c8c", "strokeWidth": 1, "clip": true},
                 "encoding": {
                   "x": {"field": "t", "type": "nominal", "scale": {"domain": ["Mock","2h","8h","24h"], "paddingInner": 0.35, "paddingOuter": 0.19}, "axis": {"title": null}},
                   "xOffset": {"field": "g", "scale": {"domain": ["MDM","D₃-MDM"], "paddingInner": 0.35}},
                   "y": {"field": "m", "type": "quantitative", "scale": {"domain": [0, 0.009], "nice": false}, "axis": {"title": "OAS1/Ubiquitin mRNA", "titleY": -6, "values": [0, 0.004, 0.008, 0.009], "tickCount": 20, "labelExpr": "datum.value > 0.0085 ? '' : format(datum.value, '.3f')"}},
                   "color": {"field": "g", "type": "nominal", "scale": {"domain": ["MDM","D₃-MDM"], "range": ["#db83f2","#8d8df6"]}, "legend": null}
                 }},
                {"data": {"name": "bars"}, "transform": [{"filter": "datum.p === 'E'"}, {"calculate": "datum.m + datum.sd", "as": "hi"}],
                 "mark": {"type": "rule", "strokeWidth": 1.2, "clip": true},
                 "encoding": {
                   "x": {"field": "t", "type": "nominal"},
                   "xOffset": {"field": "g", "scale": {"domain": ["MDM","D₃-MDM"], "paddingInner": 0.35}},
                   "y": {"field": "m", "type": "quantitative", "scale": {"domain": [0, 0.009], "nice": false}},
                   "y2": {"field": "hi"},
                   "stroke": {"field": "g", "type": "nominal", "scale": {"domain": ["MDM","D₃-MDM"], "range": ["#3a2040","#1d1d66"]}, "legend": null}
                 }},
                {"data": {"name": "bars"}, "transform": [{"filter": "datum.p === 'E'"}, {"calculate": "datum.m + datum.sd", "as": "hi"}],
                 "mark": {"type": "tick", "size": 5, "thickness": 1.2, "clip": true},
                 "encoding": {
                   "x": {"field": "t", "type": "nominal"},
                   "xOffset": {"field": "g", "scale": {"domain": ["MDM","D₃-MDM"], "paddingInner": 0.35}},
                   "y": {"field": "hi", "type": "quantitative", "scale": {"domain": [0, 0.009], "nice": false}},
                   "stroke": {"field": "g", "type": "nominal", "scale": {"domain": ["MDM","D₃-MDM"], "range": ["#3a2040","#1d1d66"]}, "legend": null}
                 }},
                {"data": {"name": "pts"}, "transform": [{"filter": "datum.p === 'E'"}, {"calculate": "datum.g + datum.r", "as": "k"}],
                 "mark": {"type": "point", "filled": false, "strokeWidth": 0.8, "size": 22, "color": "#333333", "clip": true},
                 "encoding": {
                   "x": {"field": "t", "type": "nominal"},
                   "xOffset": {"field": "k", "scale": {"domain": ["MDM1","MDM2","MDM3","MDM4","MDM5","MDM6","s1","s2","D₃-MDM1","D₃-MDM2","D₃-MDM3","D₃-MDM4","D₃-MDM5","D₃-MDM6"], "paddingInner": 0, "paddingOuter": 0}},
                   "y": {"field": "v", "type": "quantitative", "scale": {"domain": [0, 0.009], "nice": false}},
                   "shape": {"field": "g", "type": "nominal", "scale": {"domain": ["MDM","D₃-MDM"], "range": ["triangle-up","circle"]}, "legend": null}
                 }},
                {"data": {"values": [{}]}, "mark": {"type": "rule", "color": "#7a7a7a", "strokeWidth": 1.2},
                 "encoding": {"x": {"datum": "2h", "bandPosition": 0.25}, "x2": {"datum": "24h", "bandPosition": 1.15}, "y": {"datum": -0.00347, "scale": {"domain": [0, 0.009], "nice": false}}}},
                {"data": {"values": [{}]}, "mark": {"type": "rule", "color": "#7a7a7a", "strokeWidth": 1.2},
                 "encoding": {"x": {"datum": "2h", "bandPosition": 0.25}, "y": {"datum": -0.00314, "scale": {"domain": [0, 0.009], "nice": false}}, "y2": {"datum": -0.0038}}},
                {"data": {"values": [{}]}, "mark": {"type": "rule", "color": "#7a7a7a", "strokeWidth": 1.2},
                 "encoding": {"x": {"datum": "24h", "bandPosition": 1.15}, "y": {"datum": -0.00314, "scale": {"domain": [0, 0.009], "nice": false}}, "y2": {"datum": -0.0038}}},
                {"data": {"values": [{}]}, "mark": {"type": "text", "text": "DENV-2", "fontSize": 8, "fontWeight": "bold"},
                 "encoding": {"x": {"datum": "8h"}, "y": {"datum": -0.00466, "scale": {"domain": [0, 0.009], "nice": false}}}}
              ]
            }
          ]
        }
      ]
    }
  ],
  "config": {
    "font": "Liberation Sans",
    "view": {"stroke": null},
    "title": {"fontSize": 17, "fontWeight": "bold", "font": "Liberation Sans", "color": "#000000", "offset": 2},
    "axis": {"grid": false, "domainColor": "#000000", "domainWidth": 1.2, "tickColor": "#000000", "tickWidth": 1.2, "tickSize": 5, "labelColor": "#000000", "labelFontWeight": "bold", "labelFontSize": 8.5, "titleColor": "#000000", "titleFontWeight": "bold", "titleFontSize": 10, "titlePadding": 8, "labelPadding": 2},
    "axisX": {"labelAngle": -45, "labelFontSize": 9}
  }
}
